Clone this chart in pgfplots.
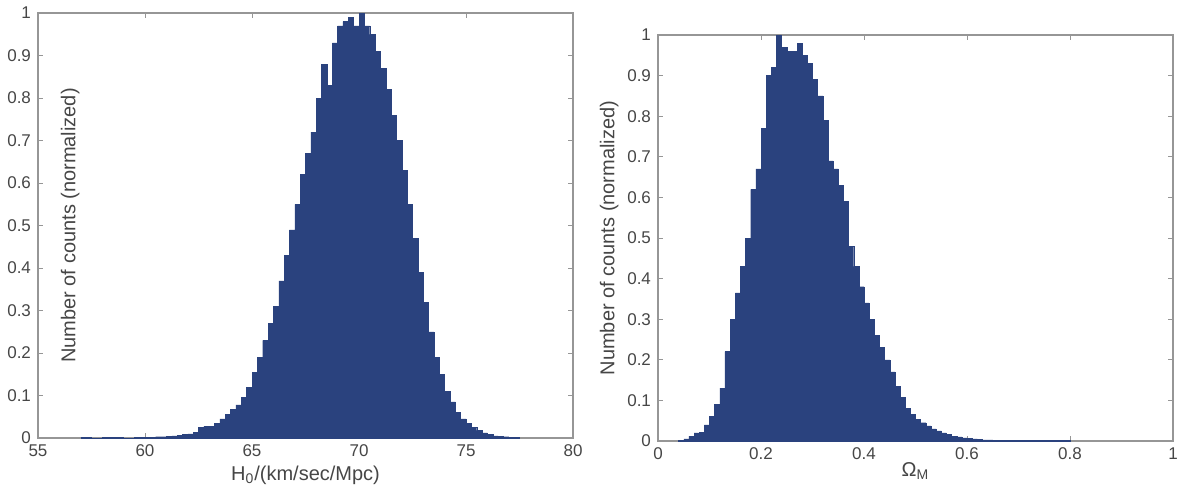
\documentclass[border=0pt]{standalone}
\usepackage{fontspec}
\setmainfont{Liberation Sans}
\usepackage{pgfplots}
\pgfplotsset{compat=1.18}

\definecolor{histblue}{RGB}{42,66,126}
\definecolor{axgray}{RGB}{150,150,150}
\definecolor{txtgray}{RGB}{70,70,70}

\pgfplotsset{
  matlabhist/.style={
    scale only axis,
    anchor=south west,
    ymin=0, ymax=1,
    tick align=inside,
    xtick pos=both, ytick pos=both,
    xticklabel pos=lower, yticklabel pos=left,
    major tick length=2.5pt,
    axis line style={axgray, line width=0.6pt},
    every tick/.style={axgray, line width=0.5pt},
    /pgf/number format/assume math mode=true,
    tick label style={font=\fontsize{8.5}{10}\selectfont, text=txtgray},
    label style={font=\fontsize{10}{12}\selectfont, text=txtgray},
    ytick={0,0.1,...,1},
    yticklabels={0,0.1,0.2,0.3,0.4,0.5,0.6,0.7,0.8,0.9,1},
  },
}

\begin{document}
\begin{tikzpicture}
\useasboundingbox (0,0) rectangle (593.5pt,247.5pt);

% left: H0 histogram
\begin{axis}[
  matlabhist,
  at={(19pt,28.5pt)},
  width=267.5pt, height=212.5pt,
  xmin=55, xmax=80,
  xtick={55,60,65,70,75,80},
  xlabel={H\textsubscript{0}/(km/sec/Mpc)},
  xlabel style={at={(axis description cs:0.5,0)}, anchor=center, yshift=-18.5pt},
  ylabel={Number of counts (normalized)},
  ylabel style={at={(axis description cs:0.06,0.5)}, anchor=center},
]
\addplot[ybar interval, fill=histblue, draw=histblue, line width=0.2pt]
  coordinates {
    (57.0,0.001) (57.5,0.000) (58.0,0.001) (58.5,0.001) (59.0,0.000)
    (59.5,0.001) (60.0,0.002) (60.25,0.002) (60.5,0.003) (60.75,0.003)
    (61.0,0.004) (61.25,0.005) (61.5,0.006) (61.75,0.008) (62.0,0.010)
    (62.25,0.014) (62.5,0.025) (62.75,0.028) (63.0,0.027) (63.25,0.035)
    (63.5,0.045) (63.75,0.055) (64.0,0.068) (64.25,0.078) (64.5,0.095)
    (64.75,0.12) (65.0,0.155) (65.25,0.19) (65.5,0.23) (65.75,0.27)
    (66.0,0.31) (66.25,0.37) (66.5,0.43) (66.75,0.49) (67.0,0.55)
    (67.25,0.62) (67.5,0.67) (67.75,0.72) (68.0,0.80) (68.25,0.88)
    (68.5,0.83) (68.75,0.93) (69.0,0.97) (69.25,0.98) (69.5,0.99)
    (69.75,0.97) (70.0,1.00) (70.25,0.97) (70.5,0.95) (70.75,0.91)
    (71.0,0.87) (71.25,0.82) (71.5,0.76) (71.75,0.70) (72.0,0.63)
    (72.25,0.55) (72.5,0.47) (72.75,0.39) (73.0,0.32) (73.25,0.25)
    (73.5,0.19) (73.75,0.15) (74.0,0.11) (74.25,0.085) (74.5,0.06)
    (74.75,0.045) (75.0,0.035) (75.25,0.025) (75.5,0.018) (75.75,0.012)
    (76.0,0.008) (76.25,0.005) (76.5,0.004) (76.75,0.003) (77.0,0.002)
    (77.25,0.001) (77.5,0)
  };
\end{axis}

% right: Omega_M histogram
\begin{axis}[
  matlabhist,
  at={(329pt,27pt)},
  width=257.5pt, height=203pt,
  xmin=0, xmax=1,
  xtick={0,0.2,0.4,0.6,0.8,1},
  xticklabels={0,0.2,0.4,0.6,0.8,1},
  xlabel={Ω\textsubscript{M}},
  xlabel style={at={(axis description cs:0.5,0)}, anchor=center, yshift=-15pt},
  ylabel={Number of counts (normalized)},
  ylabel style={at={(axis description cs:-0.095,0.5)}, anchor=center},
]
\addplot[ybar interval, fill=histblue, draw=histblue, line width=0.2pt]
  coordinates {
    (0.04,0.002) (0.05,0.005) (0.06,0.012) (0.07,0.020) (0.08,0.022)
    (0.09,0.04) (0.10,0.06) (0.11,0.09) (0.12,0.13) (0.13,0.22)
    (0.14,0.30) (0.15,0.365) (0.16,0.43) (0.17,0.50) (0.18,0.62)
    (0.19,0.67) (0.20,0.77) (0.21,0.90) (0.22,0.92) (0.23,1.00)
    (0.24,0.97) (0.25,0.96) (0.26,0.96) (0.27,0.98) (0.28,0.95)
    (0.29,0.93) (0.30,0.89) (0.31,0.85) (0.32,0.79) (0.33,0.69)
    (0.34,0.67) (0.35,0.63) (0.36,0.59) (0.37,0.48) (0.38,0.43)
    (0.39,0.38) (0.40,0.34) (0.41,0.30) (0.42,0.26) (0.43,0.23)
    (0.44,0.20) (0.45,0.17) (0.46,0.135) (0.47,0.107) (0.48,0.08)
    (0.49,0.065) (0.50,0.053) (0.51,0.045) (0.52,0.037) (0.53,0.030)
    (0.54,0.025) (0.55,0.020) (0.56,0.016) (0.57,0.012) (0.58,0.010)
    (0.59,0.008) (0.60,0.006) (0.61,0.005) (0.62,0.004) (0.63,0.003)
    (0.64,0.003) (0.65,0.002) (0.66,0.002) (0.67,0.001) (0.70,0.001)
    (0.75,0.001) (0.80,0)
  };
\end{axis}
\end{tikzpicture}
\end{document}
